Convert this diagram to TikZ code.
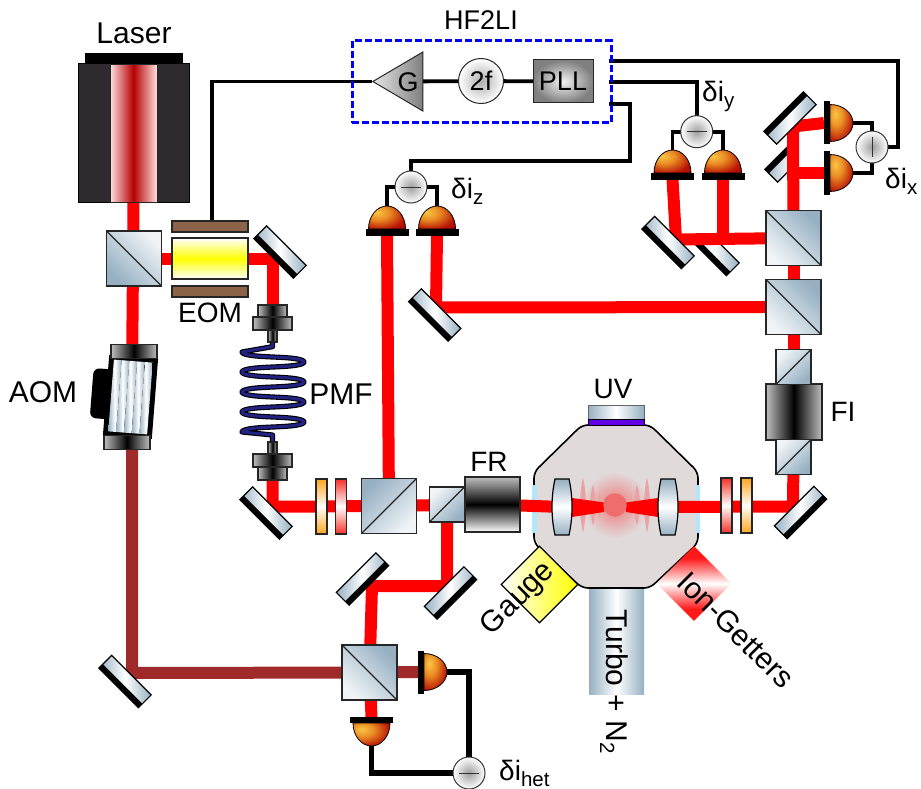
\documentclass[tikz,border=0pt]{standalone}
\usepackage{fontspec}
\setmainfont{Liberation Sans}
\usetikzlibrary{shapes.geometric}
\pgfdeclarelayer{back}
\pgfdeclarelayer{beams}
\pgfsetlayers{back,beams,main}
\definecolor{optdark}{RGB}{150,176,194}
\definecolor{optlight}{RGB}{240,244,247}
\definecolor{beamred}{RGB}{255,0,0}
\definecolor{beamdim}{RGB}{160,42,42}
\definecolor{plate}{RGB}{139,99,72}
\definecolor{chamberfill}{RGB}{225,218,219}
\definecolor{wplorange}{RGB}{255,165,30}
\definecolor{wplred}{RGB}{245,50,40}
\pgfdeclareradialshading{dome}{\pgfpoint{-14bp}{12bp}}{rgb(0bp)=(.98,.78,.27);rgb(15bp)=(.92,.55,.14);rgb(34bp)=(.72,.08,.02);rgb(48bp)=(.66,.0,.0);rgb(100bp)=(.66,.0,.0)}
\pgfdeclareverticalshading{redband}{100bp}{rgb(0bp)=(1,.1,.1);rgb(33bp)=(1,.1,.1);rgb(50bp)=(1,1,1);rgb(67bp)=(1,.1,.1);rgb(100bp)=(1,.1,.1)}
\newcommand{\subtxt}[1]{\raisebox{-6pt}{\fontsize{20.5}{21}\selectfont #1}}
\tikzset{
  lbl/.style={font=\fontsize{28}{30}\selectfont, inner sep=0pt},
  lblbig/.style={font=\fontsize{30}{32}\selectfont, inner sep=0pt},
  beam/.style={line width=12pt, color=beamred, line join=miter},
  dimbeam/.style={line width=12pt, color=beamdim, line join=miter},
  wire/.style={line width=3.8pt, black, line join=miter},
  hetwire/.style={line width=5.6pt, black, line join=miter},
  cube/.style={rectangle, draw=black!85, line width=1.3pt, inner sep=0pt, minimum size=55pt,
    top color=optdark, bottom color=optlight, shading angle=#1},
  diagdown/.style={path picture={\draw[line width=1.3pt] (path picture bounding box.north west) -- (path picture bounding box.south east);}},
  diagup/.style={path picture={\draw[line width=1.3pt] (path picture bounding box.south west) -- (path picture bounding box.north east);}},
  mirror/.style={rectangle, draw=black, line width=1.2pt, inner sep=0pt, minimum width=56pt, minimum height=18pt,
    left color=optdark, right color=optdark, middle color=white,
    path picture={\fill[black] (-30,3.5) rectangle (30,11);}},
  waveplate/.style={rectangle, draw=black!85, line width=1.3pt, inner sep=0pt, minimum width=11pt, minimum height=55pt,
    top color=#1, bottom color=#1, middle color=white},
  subtr/.style={circle, draw=black!80, line width=1pt, inner sep=0pt, minimum size=32pt,
    inner color=black!38, outer color=white,
    path picture={\draw[line width=1pt] (-10pt,0pt) -- (10pt,0pt);}},
  darkbar/.style={rectangle, draw=black!85, line width=1.3pt, inner sep=0pt,
    left color=black!25, right color=black!25, middle color=black},
  pics/detector/.style={code={
    \shade[shading=dome, draw=black, line width=.8pt] (-18.5,0) .. controls (-18.5,-13) and (-10,-23) .. (0,-23)
      .. controls (10,-23) and (18.5,-13) .. (18.5,0) -- cycle;
    \fill[black] (-21.5,0) rectangle (21.5,6.5);
    \coordinate (-top) at (0,-23);
    \coordinate (-base) at (0,6);
  }},
  pics/lens/.style={code={
    \shade[top color=optdark, bottom color=optdark, middle color=white, draw=black, line width=1.2pt]
      (-7,-28) -- (7,-28) .. controls (11,-10) and (11,10) .. (7,28) -- (-7,28) .. controls (-11,10) and (-11,-10) .. (-7,-28) -- cycle;
  }},
}
\begin{document}
\begin{tikzpicture}[x=1pt,y=-1pt]
  \useasboundingbox (0,0) rectangle (921,789);
  % laser head
  \node[rectangle, fill=black, minimum width=98pt, minimum height=11pt, inner sep=0pt] (lasertop) at (134,58.5) {};
  \node[rectangle, draw=black, fill={rgb,255:red,46;green,42;blue,46}, line width=1pt, minimum width=111pt, minimum height=138pt, inner sep=0pt] (laser) at (133.5,133) {};
  \node[rectangle, draw=black!85, line width=1pt, minimum width=47pt, minimum height=137pt, inner sep=0pt,
    left color=red!12, right color=red!12, middle color={rgb,255:red,180;green,0;blue,0}] (lasercore) at (133.5,133.5) {};
  \node[lblbig] (laserlbl) at (134,33) {Laser};
  % cubes
  \node[cube=135, diagdown] (bsa) at (134,258.5) {};
  \node[cube=-45, diagdown] (bshet) at (369.5,672.5) {};
  \node[cube=45, diagup] (bsmain) at (389,506) {};
  \node[cube=-135, diagup, minimum size=35pt] (bsfr) at (447,504.5) {};
  \node[cube=-45, diagdown] (bsy) at (793.5,238) {};
  \node[cube=-45, diagdown] (bsz) at (793.5,307) {};
  % eom
  \node[rectangle, draw=black!85, line width=1.3pt, minimum width=76pt, minimum height=41pt, inner sep=0pt,
    top color=white, bottom color=white, middle color=yellow] (eom) at (210,258.5) {};
  \node[rectangle, draw=black!85, fill=plate, line width=1.3pt, minimum width=76pt, minimum height=11pt, inner sep=0pt] (eomtop) at (210,226.5) {};
  \node[rectangle, draw=black!85, fill=plate, line width=1.3pt, minimum width=76pt, minimum height=11pt, inner sep=0pt] (eombot) at (210,291.5) {};
  \node[lbl] (eomlbl) at (210,313) {EOM};
  % mirrors
  \node[mirror, rotate=-45] (ma) at (280,252) {};
  \node[mirror, rotate=-45] (mb) at (266,513) {};
  \node[mirror, rotate=-45] (mc) at (125,681.5) {};
  \node[mirror, rotate=45] (md) at (362.5,579) {};
  \node[mirror, rotate=45] (me) at (450.5,593) {};
  \node[mirror, rotate=45] (mf) at (800.5,512.5) {};
  \node[mirror, rotate=-45] (mg) at (668,242.5) {};
  \node[mirror, rotate=-45] (mh) at (434.7,315) {};
  \node[mirror, rotate=-135] (mi) at (790,118) {};
  \begin{pgfonlayer}{back}
    \begin{scope}
      \clip (690,245) rectangle (760,290);
      \node[mirror, rotate=-45] (mj) at (713,249.5) {};
    \end{scope}
    \begin{scope}
      \clip (760,130) rectangle (793,190);
      \node[mirror, rotate=-135] (mk) at (791,156) {};
    \end{scope}
  \end{pgfonlayer}
  % chamber
  \begin{pgfonlayer}{back}
    \draw[rounded corners=6pt, fill=chamberfill, line width=1.6pt] (582,425) -- (650,425) -- (698,472) -- (698,543) -- (650,588) -- (582,588) -- (534,543) -- (534,472) -- cycle;
    \fill[cyan!30] (532,485) rectangle (537,533);
    \fill[cyan!30] (696,485) rectangle (700,533);
    \shade[inner color=red!45!chamberfill, outer color=chamberfill] (615,505) circle (33);
    \foreach \mx/\my/\mw in {32/27.5/4, 22/20.5/4, 15.5/12.5/2.5} {
      \fill[red!25!chamberfill] (615-\mx,505-\my) .. controls (615-\mx-\mw,505-\my/3) and (615-\mx-\mw,505+\my/3) .. (615-\mx,505+\my)
        .. controls (615-\mx+\mw,505+\my/3) and (615-\mx+\mw,505-\my/3) .. (615-\mx,505-\my);
      \fill[red!25!chamberfill] (615+\mx,505-\my) .. controls (615+\mx-\mw,505-\my/3) and (615+\mx-\mw,505+\my/3) .. (615+\mx,505+\my)
        .. controls (615+\mx+\mw,505+\my/3) and (615+\mx+\mw,505-\my/3) .. (615+\mx,505-\my);
    }
  \end{pgfonlayer}
  \node[circle, fill=red!50!chamberfill, minimum size=23.5pt, inner sep=0pt] (ion) at (615,505) {};
  \coordinate (lensl) at (562,507);
  \coordinate (lensr) at (668,507);
  \pic at (lensl) {lens};
  \pic at (lensr) {lens};
  % viewport and pumps
  \node[rectangle, draw=black!60, line width=.8pt, inner sep=0pt, minimum width=56pt, minimum height=14pt, left color=optdark, right color=optdark, middle color=white] (uvport) at (616,412) {};
  \node[rectangle, fill={rgb,255:red,100;green,0;blue,230}, draw=black, line width=.5pt, inner sep=0pt, minimum width=56pt, minimum height=6pt] (uvstrip) at (616,422) {};
  \node[lbl] (uvlbl) at (613,389) {UV};
  \node[rectangle, inner sep=0pt, minimum width=55pt, minimum height=105pt, left color=optdark, right color=optdark, middle color=white] (turbo) at (616.5,641.5) {};
  \node[lblbig, rotate=-90, anchor=west] (turbolbl) at (614,609) {Turbo + N\subtxt{2}};
  \node[rectangle, inner sep=0pt, minimum size=53pt, rotate=-45, shading=redband] (getter) at (694,583.5) {};
  \node[lblbig, rotate=-45] (getterlbl) at (736,630) {Ion-Getters};
  \node[rectangle, draw=black, line width=1.2pt, inner sep=0pt, minimum size=54pt, rotate=45, left color=white, right color=yellow] (gauge) at (539.5,584.5) {};
  \node[lblbig, rotate=45] (gaugelbl) at (518.5,599) {Gauge};
  % faraday parts
  \node[darkbar, minimum width=55pt, minimum height=55pt, top color=black!25, bottom color=white, middle color=black] (fr) at (492.5,504.5) {};
  \node[lbl] (frlbl) at (489,462) {FR};
  \node[darkbar, minimum width=56pt, minimum height=56pt] (fi) at (794,412) {};
  \node[cube=-135, diagup, minimum size=35pt] (fitop) at (793.5,367) {};
  \node[cube=-135, diagup, minimum size=35pt] (fibot) at (793.5,457) {};
  \node[lbl] (filbl) at (843,412) {FI};
  % waveplates
  \node[waveplate=wplorange] (wpa) at (321.5,506.5) {};
  \node[waveplate=wplred] (wpb) at (341,506.5) {};
  \node[waveplate=wplred] (wpc) at (726.5,505.5) {};
  \node[waveplate=wplorange] (wpd) at (746.5,505.5) {};
  % fibre
  \node[darkbar, minimum width=29pt, minimum height=12pt] (cplaa) at (272.5,311) {};
  \node[darkbar, minimum width=39pt, minimum height=13pt] (cplab) at (272.5,323.5) {};
  \node[darkbar, minimum width=9pt, minimum height=12pt] (cplac) at (272.5,336) {};
  \node[darkbar, minimum width=9pt, minimum height=12pt] (cplba) at (272.5,448) {};
  \node[darkbar, minimum width=39pt, minimum height=13pt] (cplbb) at (272.5,460.5) {};
  \node[darkbar, minimum width=29pt, minimum height=13pt] (cplbc) at (272.5,473.5) {};
  \foreach \fw/\fc in {5.2pt/black,3pt/{rgb,255:red,34;green,34;blue,130}} {
    \draw[line width=\fw, color=\fc, line join=round] (cplac.south) -- ++(0,4) -- plot[domain=0:1440, samples=161] ({273-31*cos(\x)},{352+\x/18+0.9*sin(2*\x)}) -- (272.5,435) -- (cplba.north);
  }
  \node[lblbig] (pmflbl) at (341,394) {PMF};
  % aom
  \begin{scope}[shift={(130.5,397)}, rotate=-4.5]
    \fill[black, rounded corners=6pt] (-39,-26) rectangle (-10,24);
    \fill[black] (-24.5,-40) rectangle (24.5,40);
    \foreach \sx in {-15.6,-7.8,...,15.7} {
      \shade[left color=optdark, right color=optdark, middle color=white] (\sx-3.9,-36) rectangle (\sx+3.9,36);
    }
    \node[darkbar, minimum width=46pt, minimum height=14pt] (aomtop) at (0,-45.5) {};
    \node[darkbar, minimum width=46pt, minimum height=14pt] (aombot) at (0,45.5) {};
  \end{scope}
  \node[lblbig] (aomlbl) at (43,392) {AOM};
  % detectors
  \pic[rotate=180] (detha) at (371.5,723) {detector};
  \pic[rotate=-90] (dethb) at (424,672) {detector};
  \pic (detza) at (387,229) {detector};
  \pic (detzb) at (437,229) {detector};
  \pic (detya) at (672.5,173) {detector};
  \pic (detyb) at (723,173) {detector};
  \pic[rotate=-90] (detxa) at (830,123) {detector};
  \pic[rotate=-90] (detxb) at (830,173) {detector};
  % subtractors
  \node[subtr] (subhet) at (469,773) {};
  \node[subtr] (subz) at (411,187) {};
  \node[subtr] (suby) at (696.7,131.7) {};
  \node[subtr, rotate=90] (subx) at (872,147) {};
  % lock-in box
  \node[rectangle, draw=blue, dash pattern=on 7pt off 3pt, line width=3pt, minimum width=259pt, minimum height=82pt, inner sep=0pt] (hf) at (481.5,82) {};
  \node[lbl, font=\fontsize{27}{30}\selectfont] (hflbl) at (481,20) {HF2LI};
  \node[isosceles triangle, isosceles triangle stretches, shape border rotate=180, draw=black!85, line width=1pt, inner sep=0pt, minimum width=59pt, minimum height=50pt, left color=black!10, right color=black!50] (gain) at (406,81.5) {};
  \node[lbl, font=\fontsize{27}{30}\selectfont] (gainlbl) at (408,82) {G};
  \node[circle, draw=black!85, line width=1pt, inner sep=0pt, minimum size=45pt, inner color=black!32, outer color=white, font=\fontsize{27}{30}\selectfont] (twof) at (481,81) {2f};
  \node[rectangle, draw=black!85, line width=1pt, inner sep=0pt, minimum width=60pt, minimum height=43pt, inner color=black!5, outer color=black!50, font=\fontsize{27}{30}\selectfont] (pll) at (563,81.5) {PLL};
  \coordinate (portx) at (609,61);
  \coordinate (porty) at (609,82);
  \coordinate (portz) at (609,104);
  % labels
  \node[lbl, anchor=base west] (lblz) at (451,198) {δi\subtxt{z}};
  \node[lbl, anchor=base west] (lbly) at (702,102) {δi\subtxt{y}};
  \node[lbl, anchor=base west] (lblx) at (885,188) {δi\subtxt{x}};
  \node[lbl, anchor=base west] (lblhet) at (499,780) {δi\subtxt{het}};
  % beams
  \coordinate (turnaom) at (132,673);
  \coordinate (turna) at (272,257);
  \coordinate (turnb) at (273,506.5);
  \coordinate (turnd) at (372,586);
  \coordinate (turne) at (447,586);
  \coordinate (turnf) at (793,506.5);
  \coordinate (turng) at (676,239.5);
  \coordinate (turnh) at (436,307.5);
  \coordinate (turni) at (793,126.5);
  \begin{pgfonlayer}{beams}
    \draw[beam] (lasercore.south) -- (132,380);
    \draw[dimbeam] (132,420) -- (turnaom) -- (bshet.center);
    \draw[dimbeam] (bshet.center) -- (dethb-base);
    \draw[beam] (bsa.center) -- (eom.center);
    \draw[beam] (eom.center) -| (cplaa.north);
    \draw[beam] (cplbc.south) |- (wpa.center) -- (fr.center) -- (lensl);
    \draw[beam] (lensr) -- (turnf) -- (fibot.center);
    \draw[beam] (fitop.center) -- (bsy.center);
    \draw[beam] (bsy.center) -- (turni) -- (detxa-base);
    \draw[beam] (bsy.center |- detxb-base) -- (detxb-base);
    \draw[beam] (bsy.center) -- (turng) -- (detya-base);
    \draw[beam] (detyb-base) -- (bsy.center -| detyb-base);
    \draw[beam] (bsz.center) -- (turnh) -- (detzb-base);
    \draw[beam] (bsmain.center) -- (detza-base);
    \draw[beam] (bsfr.center) -- (turne) -- (turnd) -- (bshet.center);
    \draw[beam] (bshet.center) -- (detha-base);
    \fill[beamred] (572,498) -- (604,502.5) -- (604,512) -- (572,517) -- cycle;
    \fill[beamred] (658,498) -- (626,502.5) -- (626,512) -- (658,517) -- cycle;
    \draw[wire] ([xshift=2pt]eomtop.north) |- (gain.apex);
    \draw[wire] (gain.center) -- (twof.center) -- (pll.center);
    \draw[wire] (portx) -| (898,147) -- (subx.center);
    \draw[wire] (porty) -| (suby.center);
    \draw[wire] (portz) -| (630,161) -| (subz.center);
    \draw[wire] (subz.center) -| (detza-top);
    \draw[wire] (subz.center) -| (detzb-top);
    \draw[wire] (suby.center) -| (detya-top);
    \draw[wire] (suby.center) -| (detyb-top);
    \draw[wire] (detxa-top) -| (subx.center);
    \draw[wire] (detxb-top) -| (subx.center);
    \draw[hetwire] (dethb-top) -| (subhet.center);
    \draw[hetwire] (detha-top) |- (subhet.center);
  \end{pgfonlayer}
\end{tikzpicture}
\end{document}
